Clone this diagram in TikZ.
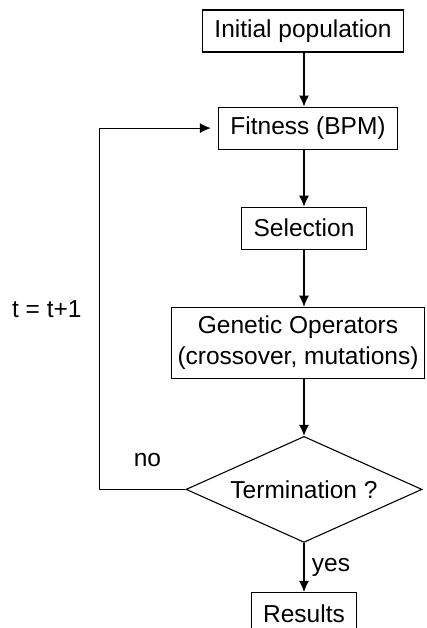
\documentclass[tikz,border=0pt]{standalone}
\usepackage{fontspec}
\setmainfont{Liberation Sans}
\usetikzlibrary{positioning,shapes.geometric,arrows.meta}

\begin{document}
\begin{tikzpicture}[x=1pt,y=1pt,line width=1.1pt,>={Latex[length=11pt,width=10pt]},
  every node/.style={font=\fontsize{24.5}{31}\selectfont},
  box/.style={draw,rectangle,minimum height=42pt,inner xsep=12pt,inner ysep=0pt},
  test/.style={draw,diamond,aspect=2.2,inner sep=0pt,minimum width=236pt,minimum height=106pt}]
\useasboundingbox (0,0) rectangle (426,628);
\node[box] (init) at (303,597) {Initial population};
\node[box, below=54pt of init, xshift=5pt] (fit) {Fitness (BPM)};
\node[box, below=57pt of fit, xshift=-4pt] (sel) {Selection};
\node[box, below=57pt of sel, xshift=-6pt, minimum height=71pt, inner xsep=6pt, align=center] (gen) {Genetic Operators\\(crossover, mutations)};
\node[test, below=57pt of gen, xshift=6pt] (term) {Termination ?};
\node[box, below=49pt of term] (res) {Results};
\draw[->] (term |- init.south) -- (term |- fit.north);
\draw[->] (term |- fit.south) -- (term |- sel.north);
\draw[->] (term |- sel.south) -- (term |- gen.north);
\draw[->] (term |- gen.south) -- (term.north);
\draw[->] (term.south) -- node[right=4pt]{yes} (res.north);
\draw[->, shorten >=7pt] (term.west) -- node[above=19pt, xshift=5pt]{no} ++(-86,0)
  |- node[pos=0.25, left=14pt]{t = t+1} (fit.west);
\end{tikzpicture}
\end{document}
